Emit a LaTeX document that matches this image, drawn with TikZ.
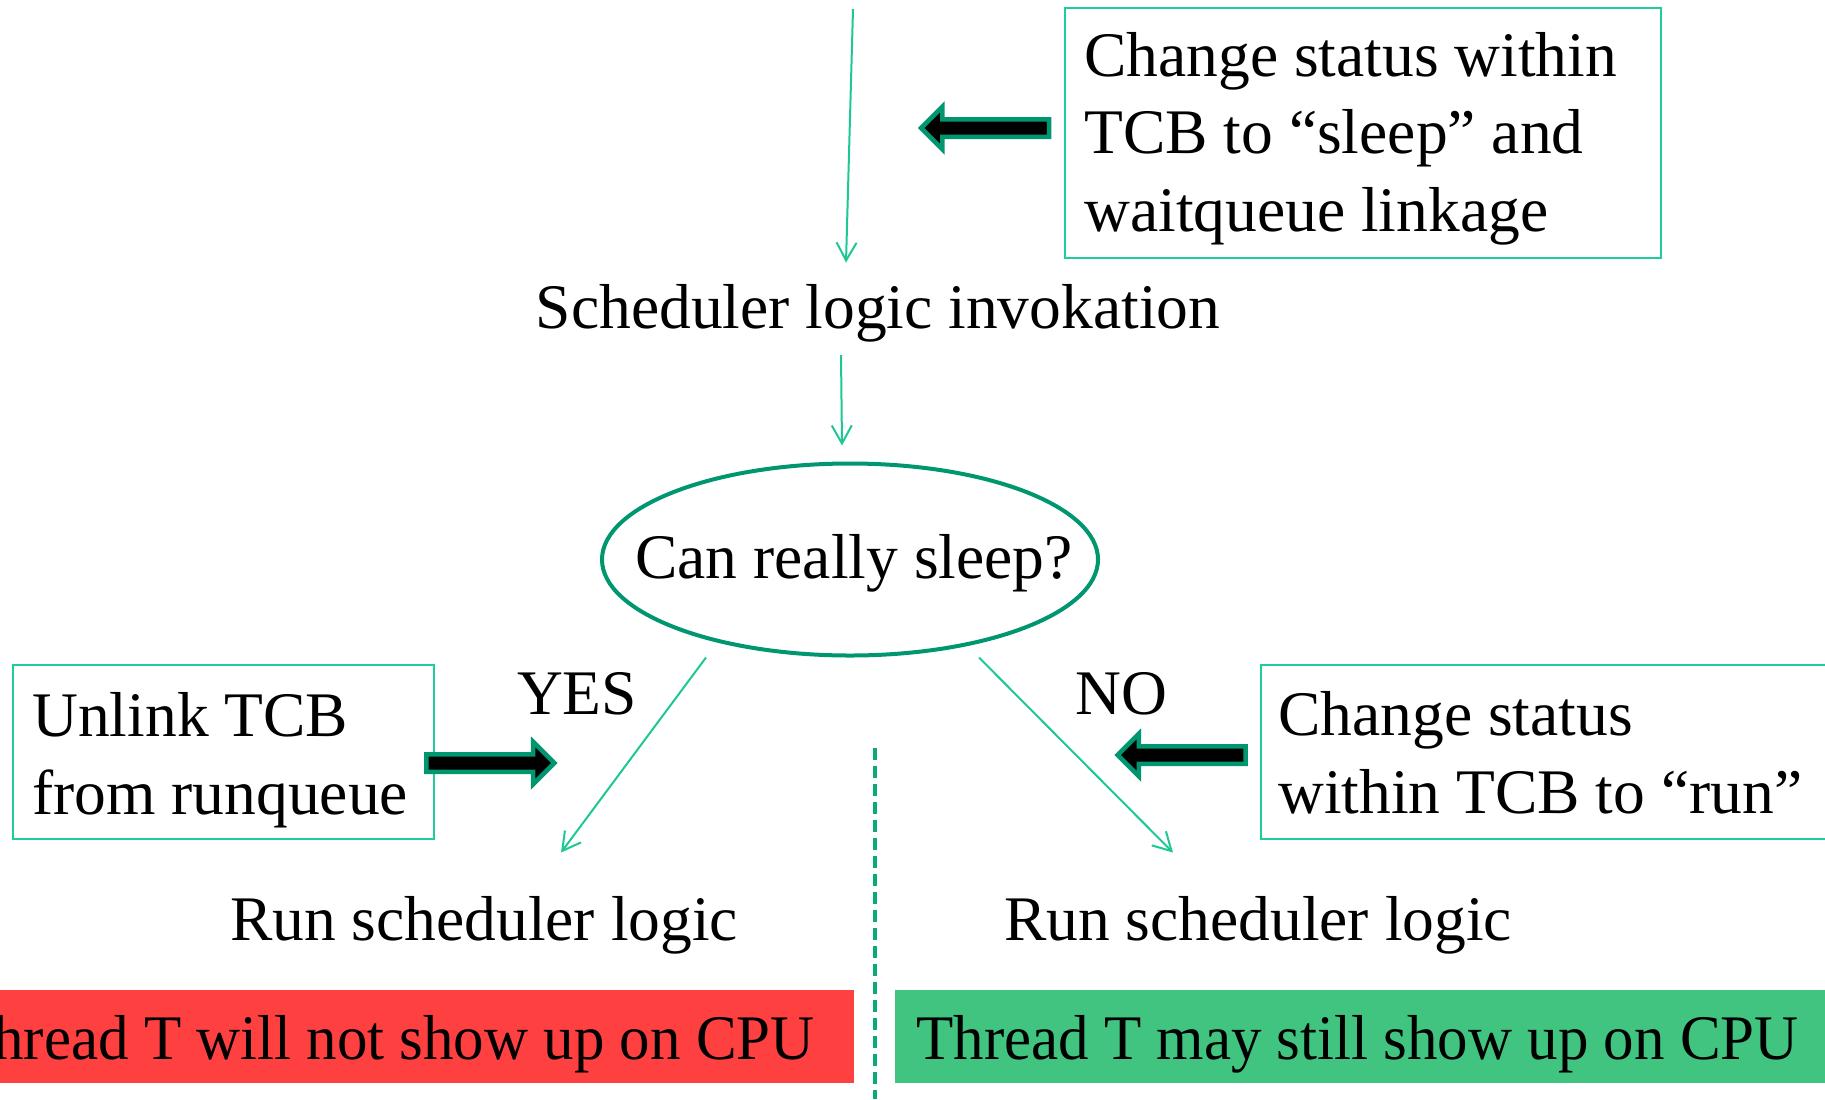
\documentclass[tikz,border=0pt]{standalone}
\usepackage{fontspec}
\usepackage{graphicx}
\setmainfont{Liberation Serif}
\usetikzlibrary{shapes.geometric,shapes.arrows,arrows.meta,calc}
\definecolor{thin}{RGB}{30,200,150}
\definecolor{boxline}{RGB}{30,205,155}
\definecolor{dkgreen}{RGB}{0,150,112}
\definecolor{dashgreen}{RGB}{10,170,120}
\definecolor{barred}{RGB}{255,64,64}
\definecolor{bargreen}{RGB}{64,196,128}
\begin{document}
\begin{tikzpicture}[x=0.5pt,y=-0.5pt,
  font=\fontsize{31.75}{38.6}\selectfont,
  thinarrow/.style={draw=thin, line width=1pt, -{Straight Barb[length=9pt,width=10pt]}},
  fatarrow/.style={single arrow, draw=dkgreen, fill=black, line width=2.25pt,
    inner xsep=0pt, inner ysep=3.25pt, single arrow head extend=6.25pt,
    minimum height=64pt, single arrow tip angle=90},
  tbox/.style={draw=boxline, line width=1pt, inner sep=0pt},
  label/.style={anchor=base, inner sep=0pt},
  boxtext/.style={anchor=base west, align=left, inner sep=0pt},
  bar/.style={inner sep=0pt, anchor=north west, minimum height=46.5pt}
]
\useasboundingbox (0,0) rectangle (1825,1099);
\clip (0,0) rectangle (1825,1099);

% boxes
\node[tbox, minimum width=298pt, minimum height=125pt] (boxtop) at (1363,133) {};
\node[boxtext] (ttop) at (1084,231) {Change status within\\TCB to “sleep” and\\waitqueue linkage};
\node[tbox, minimum width=210.5pt, minimum height=87pt] (boxleft) at (223.5,752) {};
\node[boxtext] (tleft) at (32,814) {Unlink TCB\\from runqueue};
\node[tbox, minimum width=287pt, minimum height=87pt] (boxright) at (1548,752) {};
\node[boxtext] (tright) at (1278,813) {Change status\\within TCB to “run”};

% fat arrows
\node[fatarrow, shape border rotate=180] (fattop) at (989.5,128) {};
\node[fatarrow] (fatleft) at (486,763) {};
\node[fatarrow, shape border rotate=180] (fatright) at (1186,755) {};

% main flow
\coordinate (topstart) at (853,9);
\node[label] (invoke) at (878,328) {Scheduler logic invokation};
\node[ellipse, draw=dkgreen, line width=2pt, minimum width=248pt, minimum height=96pt, inner sep=0pt] (sleep) at (850,559.5) {};
\node[label] (sleeptext) at (854,578) {Can really sleep?};
\node[label] (yes) at (577,714) {YES};
\node[label] (no) at (1121,714) {NO};
\node[label] (runL) at (484,940) {Run scheduler logic};
\node[label] (runR) at (1258,940) {Run scheduler logic};

\draw[thinarrow] (topstart) -- ($(invoke.north)+(-32,-21)$);
\draw[thinarrow] ($(invoke.south)+(-37,13)$) -- ($(sleep.north)+(-8,-16)$);
\draw[thinarrow] ($(sleep.south)+(-144,0)$) -- ($(runL.north)+(77,-43)$);
\draw[thinarrow] ($(sleep.south)+(129,0)$) -- ($(runR.north)+(-85,-43)$);

% separator
\draw[draw=dashgreen, line width=1.6pt, dash pattern=on 6pt off 3pt] (875,748) -- (875,1099);

% bars
\node[bar, fill=barred, minimum width=427pt] (redbar) at (0,990) {};
\node[label, anchor=base east] (redtext) at (815,1059) {\scalebox{0.96}[1]{Thread T will not show up on CPU}};
\node[bar, fill=bargreen, minimum width=470pt] (greenbar) at (895,990) {};
\node[label, anchor=base west] (greentext) at (916,1059) {\scalebox{0.96}[1]{Thread T may still show up on CPU}};
\end{tikzpicture}
\end{document}
